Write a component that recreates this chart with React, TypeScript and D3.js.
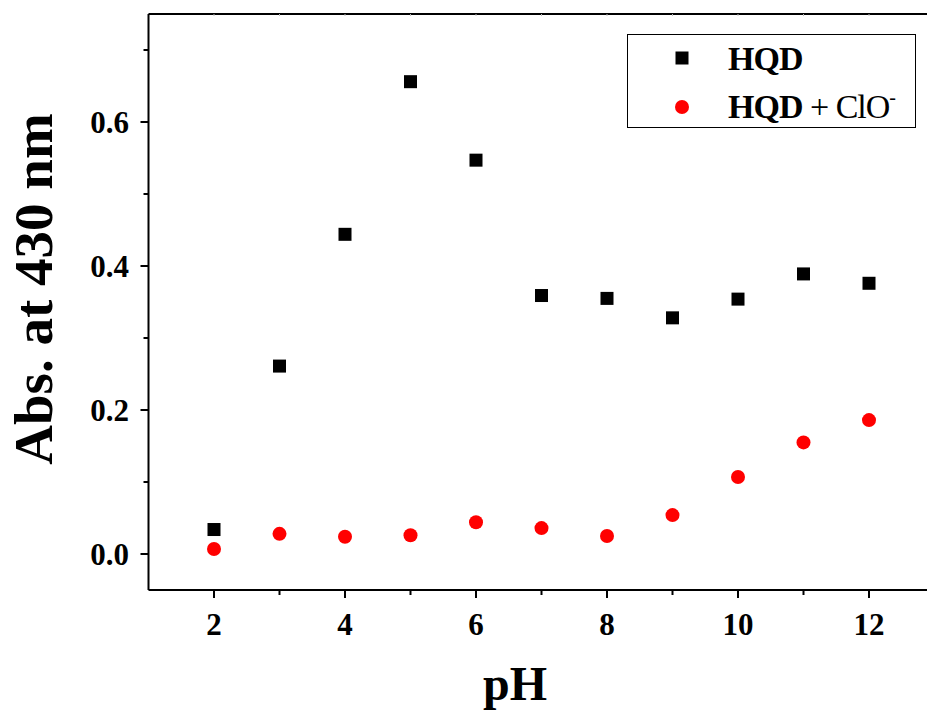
import * as d3 from "d3";

const phValues = [2, 3, 4, 5, 6, 7, 8, 9, 10, 11, 12];
const hqd = [0.034, 0.261, 0.444, 0.656, 0.547, 0.359, 0.355, 0.328, 0.354, 0.389, 0.376];
const hqdClo = [0.007, 0.028, 0.024, 0.026, 0.044, 0.036, 0.025, 0.054, 0.107, 0.155, 0.186];
const xTicks = [2, 4, 6, 8, 10, 12];
const xMinor = [3, 5, 7, 9, 11];
const yTicks = [0.0, 0.2, 0.4, 0.6];
const yMinor = [0.1, 0.3, 0.5, 0.7];

export default function App() {
  const width = 927;
  const height = 712;
  const left = 148.5;
  const top = 14;
  const bottom = 590;

  const x = d3.scaleLinear().domain([1, 13]).range([left, left + 12 * 65.5]);
  const y = d3.scaleLinear().domain([-0.05, 0.75]).range([bottom, top]);

  const font = "'Liberation Serif', 'Times New Roman', serif";

  return (
    <svg
      width={width}
      height={height}
      style={{ position: "absolute", left: 0, top: 0, background: "#fff" }}
      fontFamily={font}
    >
      {/* frame */}
      <line x1={left} x2={width} y1={top} y2={top} stroke="#000" strokeWidth={2} />
      <line x1={left} x2={left} y1={top} y2={bottom} stroke="#000" strokeWidth={2} />
      <line x1={left} x2={width} y1={bottom} y2={bottom} stroke="#000" strokeWidth={2} />

      {/* faint top ticks */}
      {[...xTicks, ...xMinor].map((t) => (
        <line key={"tt" + t} x1={x(t)} x2={x(t)} y1={top} y2={top + 2} stroke="#bbb" strokeWidth={1} />
      ))}

      {/* x ticks */}
      {xTicks.map((t) => (
        <g key={"x" + t}>
          <line x1={x(t)} x2={x(t)} y1={bottom} y2={bottom + 8} stroke="#000" strokeWidth={2} />
          <text x={x(t)} y={635} textAnchor="middle" fontSize={31} fontWeight="bold">
            {t}
          </text>
        </g>
      ))}
      {xMinor.map((t) => (
        <line key={"xm" + t} x1={x(t)} x2={x(t)} y1={bottom} y2={bottom + 5} stroke="#000" strokeWidth={2} />
      ))}

      {/* y ticks */}
      {yTicks.map((t) => (
        <g key={"y" + t}>
          <line x1={left} x2={left - 8} y1={y(t)} y2={y(t)} stroke="#000" strokeWidth={2} />
          <text
            x={129}
            y={y(t)}
            dy="0.35em"
            textAnchor="end"
            fontSize={31}
            fontWeight="bold"
          >
            {t.toFixed(1)}
          </text>
        </g>
      ))}
      {yMinor.map((t) => (
        <line key={"ym" + t} x1={left} x2={left - 5} y1={y(t)} y2={y(t)} stroke="#000" strokeWidth={2} />
      ))}

      {/* axis titles */}
      <text
        transform="translate(52, 289) rotate(-90)"
        textAnchor="middle"
        fontSize={55}
        fontWeight="bold"
      >
        Abs. at 430 nm
      </text>
      <text x={515} y={700} textAnchor="middle" fontSize={48} fontWeight="bold">
        pH
      </text>

      {/* data */}
      {phValues.map((p, i) => (
        <rect key={"s" + p} x={x(p) - 6.5} y={y(hqd[i]) - 6.5} width={13} height={13} fill="#000" />
      ))}
      {phValues.map((p, i) => (
        <circle key={"c" + p} cx={x(p)} cy={y(hqdClo[i])} r={7} fill="#ff0000" />
      ))}

      {/* legend */}
      <rect x={627.5} y={34.5} width={288} height={93} fill="#fff" stroke="#000" strokeWidth={1} />
      <rect x={675.5} y={51.5} width={13} height={13} fill="#000" />
      <circle cx={682} cy={107} r={7} fill="#ff0000" />
      <text x={728} y={70} fontSize={34} fontWeight="bold" letterSpacing={-1}>
        HQD
      </text>
      <text x={728} y={118} fontSize={34} letterSpacing={-1}>
        <tspan fontWeight="bold">HQD</tspan>
        <tspan> + ClO</tspan>
        <tspan fontSize={20} dy={-14}>-</tspan>
      </text>
    </svg>
  );
}
